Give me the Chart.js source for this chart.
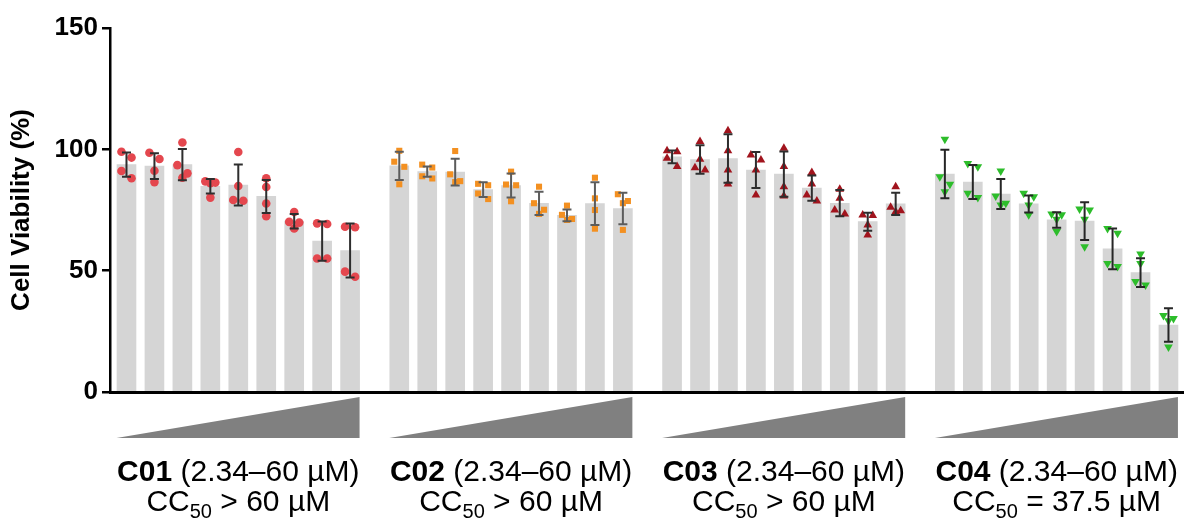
<!DOCTYPE html>
<html>
<head>
<meta charset="utf-8">
<script src="https://cdn.jsdelivr.net/npm/chart.js@4.4.0/dist/chart.umd.min.js"></script>
<style>
  html, body { margin: 0; padding: 0; background: #fff; }
</style>
</head>
<body>
<canvas id="viabilityChart" width="1188" height="525"></canvas>
<script>
// ---- data ----
const compounds = ['C01', 'C02', 'C03', 'C04'];
const concRange = '(2.34–60 µM)';
const cc50Text = ['> 60 µM', '> 60 µM', '> 60 µM', '= 37.5 µM'];
const yTicks = [0, 50, 100, 150];

// mean viability per dose (low -> high)
const meanC01 = [93.7, 93.1, 93.7, 84.8, 85.3, 80.6, 70.4, 62.2, 58.3];
const meanC02 = [93.2, 90.8, 90.6, 83.4, 85.1, 77.7, 72.8, 77.6, 75.6];
const meanC03 = [96.9, 95.8, 96.2, 91.5, 89.8, 84.0, 77.8, 70.2, 77.5];
const meanC04 = [89.8, 86.5, 81.6, 77.5, 70.9, 70.4, 59.0, 49.2, 27.6];

// SD (error bars)
const sdC01 = [5.0, 5.3, 6.4, 3.0, 8.4, 6.8, 3.0, 8.1, 11.1];
const sdC02 = [5.8, 2.1, 5.5, 3.0, 4.9, 4.8, 2.4, 8.8, 6.5];
const sdC03 = [2.6, 5.9, 10.0, 7.4, 9.3, 5.2, 5.4, 3.7, 4.6];
const sdC04 = [10.0, 7.0, 6.2, 3.5, 3.2, 7.8, 8.4, 5.9, 6.9];

// individual replicates
const repC01 = [
  [99.0, 96.6, 91.1, 88.1], [98.6, 96.0, 91.2, 86.5], [102.8, 93.5, 90.1, 88.3],
  [86.8, 86.3, 86.0, 80.1], [98.9, 84.9, 79.1, 78.8], [88.1, 84.5, 77.7, 72.4],
  [74.2, 70.1, 69.8, 67.4], [69.5, 69.2, 55.0, 55.0], [68.1, 67.9, 49.6, 47.5]
];
const repC02 = [
  [99.4, 94.9, 92.8, 85.6], [93.7, 92.5, 88.9, 88.0], [99.3, 89.7, 86.9, 86.5],
  [85.8, 85.2, 81.8, 79.5], [90.8, 85.5, 85.2, 78.6], [84.6, 77.8, 75.1, 73.4],
  [76.8, 73.0, 71.3, 70.9], [88.3, 79.8, 75.0, 67.3], [81.5, 78.7, 77.8, 66.8]
];
const repC03 = [
  [99.4, 99.0, 96.3, 92.9], [103.2, 95.9, 92.4, 91.5], [107.7, 99.4, 91.5, 85.7],
  [97.7, 95.6, 91.5, 81.2], [100.4, 92.9, 84.6, 80.8], [90.5, 85.7, 81.2, 78.7],
  [83.5, 79.8, 75.0, 73.4], [72.9, 72.7, 68.8, 64.7], [84.6, 76.1, 74.7, 74.3]
];
const repC04 = [
  [104.2, 88.7, 85.6, 82.5], [94.2, 92.8, 81.9, 80.2], [91.1, 80.8, 77.8, 77.1],
  [81.9, 80.5, 77.1, 73.0], [73.4, 73.0, 71.2, 66.1], [75.4, 75.0, 71.2, 59.9],
  [67.4, 65.4, 53.0, 51.7], [56.9, 53.0, 45.5, 44.1], [31.5, 30.3, 29.4, 18.5]
];

const means = [meanC01, meanC02, meanC03, meanC04];
const sds = [sdC01, sdC02, sdC03, sdC04];
const reps = [repC01, repC02, repC03, repC04];

// ---- styling ----
const pointColors = ['#e4474e', '#f39021', '#a1141d', '#2dbd2b'];
const errColors = ['#2e2e2e', '#5c5c5c', '#2e2e2e', '#262626'];
const pointShapes = ['circle', 'rect', 'triangle', 'triangle'];
const pointRotation = [0, 0, 0, 180];
const GROUP_STEP = 9.76;   // slot units between first bars of two groups
const FONT = '"Liberation Sans", Arial, sans-serif';

function slotX(g, i) { return g * GROUP_STEP + i; }

// spread replicates that overlap (pairs side by side), like a dot plot
function spreadPoints(values, center) {
  const sorted = values.slice().sort((a, b) => b - a);
  const out = [];
  let k = 0;
  while (k < sorted.length) {
    if (k + 1 < sorted.length && sorted[k] - sorted[k + 1] < 3.5) {
      out.push({ x: center - 0.18, y: sorted[k] });
      out.push({ x: center + 0.18, y: sorted[k + 1] });
      k += 2;
    } else {
      out.push({ x: center, y: sorted[k] });
      k += 1;
    }
  }
  return out;
}

const barData = [];
const errData = [];
compounds.forEach((c, g) => {
  means[g].forEach((m, i) => {
    barData.push({ x: slotX(g, i), y: m });
    errData.push({ x: slotX(g, i), y: m, sd: sds[g][i], g: g });
  });
});

const scatterSets = compounds.map((c, g) => ({
  type: 'scatter',
  label: c,
  data: reps[g].flatMap((vals, i) => spreadPoints(vals, slotX(g, i))),
  pointStyle: pointShapes[g],
  rotation: pointRotation[g],
  radius: g >= 2 ? 5 : 4.3,
  backgroundColor: pointColors[g],
  borderColor: pointColors[g],
  borderWidth: 0,
  order: 1
}));

// mean ± SD, drawn over the dots
const errorBars = {
  id: 'errorBars',
  afterDatasetsDraw(chart) {
    const { ctx, scales: { x, y } } = chart;
    ctx.save();
    ctx.lineWidth = 2;
    errData.forEach(d => {
      const px = x.getPixelForValue(d.x);
      const top = y.getPixelForValue(d.y + d.sd);
      const bot = y.getPixelForValue(d.y - d.sd);
      ctx.strokeStyle = errColors[d.g];
      ctx.beginPath();
      ctx.moveTo(px, top); ctx.lineTo(px, bot);
      ctx.moveTo(px - 4.5, top); ctx.lineTo(px + 4.5, top);
      ctx.moveTo(px - 4.5, bot); ctx.lineTo(px + 4.5, bot);
      ctx.stroke();
    });
    ctx.restore();
  }
};

const groupLabels = {
  id: 'groupLabels',
  afterDraw(chart) {
    const { ctx, chartArea, scales: { x } } = chart;
    ctx.save();
    compounds.forEach((c, g) => {
      const left = x.getPixelForValue(slotX(g, 0)) - 10;
      const right = x.getPixelForValue(slotX(g, 8)) + 9.5;
      const mid = x.getPixelForValue(slotX(g, 4));
      // dose wedge
      ctx.fillStyle = '#808080';
      ctx.beginPath();
      ctx.moveTo(left, chartArea.bottom + 46);
      ctx.lineTo(right, chartArea.bottom + 5);
      ctx.lineTo(right, chartArea.bottom + 46);
      ctx.closePath();
      ctx.fill();

      ctx.fillStyle = '#000';
      ctx.textBaseline = 'alphabetic';
      ctx.textAlign = 'left';
      // line 1: bold name + range
      const boldF = 'bold 30px ' + FONT, regF = '30px ' + FONT;
      ctx.font = boldF; const w1 = ctx.measureText(c).width;
      ctx.font = regF; const w2 = ctx.measureText(' ' + concRange).width;
      let sx = mid - (w1 + w2) / 2;
      const y1 = chartArea.bottom + 89;
      ctx.font = boldF; ctx.fillText(c, sx, y1);
      ctx.font = regF; ctx.fillText(' ' + concRange, sx + w1, y1);
      // line 2: CC50 with subscript
      const subF = '20px ' + FONT;
      ctx.font = regF; const a = ctx.measureText('CC').width;
      ctx.font = subF; const b = ctx.measureText('50').width;
      ctx.font = regF; const t = ' ' + cc50Text[g]; const cW = ctx.measureText(t).width;
      sx = mid - (a + b + cW) / 2;
      const y2 = chartArea.bottom + 119;
      ctx.font = regF; ctx.fillText('CC', sx, y2);
      ctx.font = subF; ctx.fillText('50', sx + a, y2 + 7);
      ctx.font = regF; ctx.fillText(t, sx + a + b, y2);
    });
    ctx.restore();
  }
};

new Chart(document.getElementById('viabilityChart'), {
  data: {
    datasets: [
      ...scatterSets,
      {
        type: 'bar',
        label: 'Mean',
        data: barData,
        backgroundColor: '#d5d5d5',
        barThickness: 19,
        order: 2
      }
    ]
  },
  options: {
    responsive: false,
    animation: false,
    devicePixelRatio: 1,
    layout: { padding: { top: 28, right: 3, bottom: 133, left: 0 } },
    plugins: { legend: { display: false }, tooltip: { enabled: false } },
    scales: {
      x: {
        type: 'linear',
        offset: false,
        min: -0.59,
        max: 3 * GROUP_STEP + 8 + 0.52,
        ticks: { display: false },
        grid: { display: false },
        border: { display: true, color: '#000', width: 3 },
        afterFit(scale) { scale.height = 0; }
      },
      y: {
        min: 0,
        max: 150,
        afterBuildTicks(scale) { scale.ticks = yTicks.map(v => ({ value: v })); },
        ticks: {
          color: '#000',
          padding: 4,
          font: { family: FONT, size: 26, weight: 'bold' }
        },
        grid: {
          display: true,
          drawOnChartArea: false,
          drawTicks: true,
          tickLength: 8,
          color: '#000',
          lineWidth: 2.5
        },
        border: { display: true, color: '#000', width: 2.5 },
        title: {
          display: true,
          text: 'Cell Viability (%)',
          color: '#000',
          padding: { top: 6, bottom: 0 },
          font: { family: FONT, size: 26, weight: 'bold' }
        },
        afterFit(scale) { scale.width = 110; }
      }
    }
  },
  plugins: [errorBars, groupLabels]
});
</script>
</body>
</html>
